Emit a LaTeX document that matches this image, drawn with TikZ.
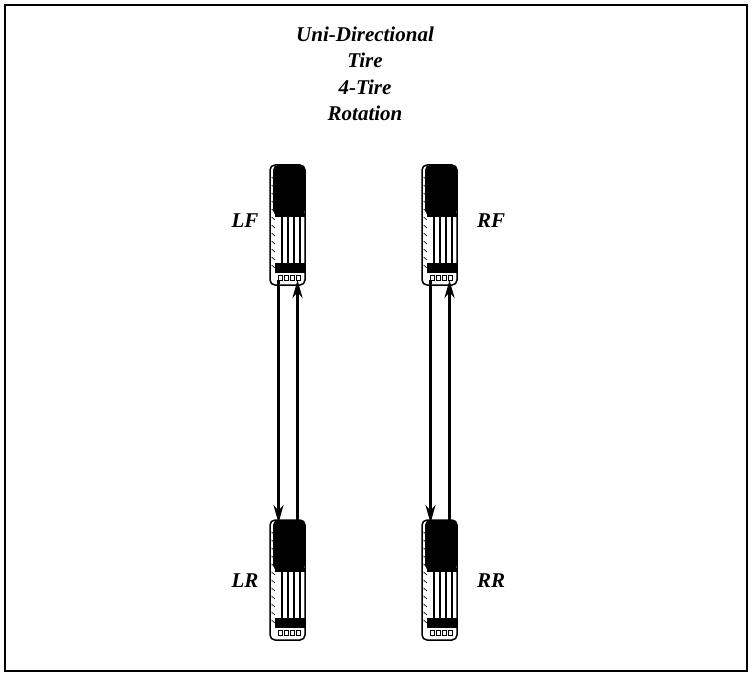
\documentclass[tikz,border=0pt]{standalone}
\usepackage{fontspec}
\setmainfont{Liberation Serif}
\usetikzlibrary{arrows.meta}
\begin{document}
\begin{tikzpicture}[x=1pt,y=-1pt,
  lbl/.style={font=\fontsize{21}{25}\selectfont\bfseries\itshape},
  arr/.style={line width=3pt,-{Stealth[length=18pt,width=10pt]}}]
\useasboundingbox (0,0) rectangle (751,676);
\draw[line width=1.5pt] (5,5) rectangle (747,671);
\node[align=center,font=\fontsize{21}{26.5}\selectfont\bfseries\itshape] (title) at (365,74) {Uni-Directional\\Tire\\4-Tire\\Rotation};
\newcommand{\tire}[3]{%
  \begin{scope}[shift={(#2,#3)}]
  \fill[black,rounded corners=5pt] (3,0) rectangle (35,50);
  \foreach \gx in {11,17,23,29} \fill (\gx,48) rectangle ++(2.2,52);
  \fill (5,48) rectangle (35,52);
  \fill (5,98) rectangle (35,108);
  \foreach \gx in {8,14,20,26} \draw[line width=0.8pt] (\gx,110) rectangle ++(4,5);
  \foreach \gy in {12,20,...,104} \draw[line width=0.6pt] (1.5,\gy) -- (5,\gy+3);
  \draw[line width=1.5pt,rounded corners=5pt] (0,0) rectangle (35,120);
  \coordinate (#1) at (17.5,60);
  \coordinate (#1-n) at (17.5,0);
  \coordinate (#1-s) at (17.5,120);
  \end{scope}}
\tire{lf}{270}{165}
\tire{rf}{422}{165}
\tire{lr}{270}{520}
\tire{rr}{422}{520}
\node[lbl] (lfl) at (245,221) {LF};
\node[lbl] (rfl) at (491,221) {RF};
\node[lbl] (lrl) at (245,581) {LR};
\node[lbl] (rrl) at (491,581) {RR};
\draw[arr] ([xshift=-9pt,yshift=5pt]lf-s) -- ([xshift=-9pt,yshift=-3pt]lr-n);
\draw[arr] ([xshift=10pt,yshift=-3pt]lr-n) -- ([xshift=10pt,yshift=5pt]lf-s);
\draw[arr] ([xshift=-9pt,yshift=5pt]rf-s) -- ([xshift=-9pt,yshift=-3pt]rr-n);
\draw[arr] ([xshift=10pt,yshift=-3pt]rr-n) -- ([xshift=10pt,yshift=5pt]rf-s);
\end{tikzpicture}
\end{document}
